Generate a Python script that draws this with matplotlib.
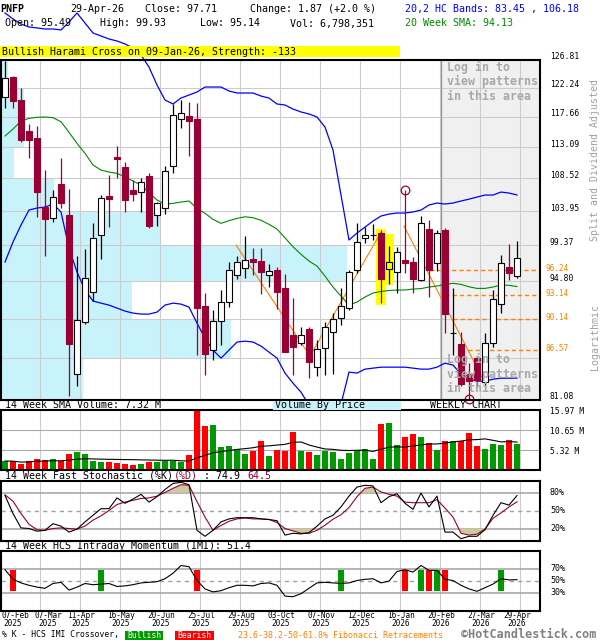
import numpy as np
import pandas as pd
import matplotlib
matplotlib.use("Agg")
import matplotlib.pyplot as plt
from matplotlib.patches import Rectangle
from matplotlib import transforms as mtrans
from matplotlib.ticker import NullLocator

plt.rcParams['font.family'] = ['DejaVu Sans Mono']

# ---------------- data (weekly, week 0 = 07-Feb-2025 ... week 64 = 29-Apr-2026) -------------
ticker = "PNFP"
last_date = "29-Apr-26"
last_volume = "6,798,351"
vol_sma14_last = 7.32
pattern_text = "Bullish Harami Cross on 09-Jan-26, Strength: -133"

opens = [120.82, 123.95, 120.31, 115.50, 114.39, 104.55, 102.96, 107.68, 103.42, 83.85,
         89.80, 93.42, 100.68, 105.98, 111.61, 110.11, 106.87, 106.59, 108.85, 103.37,
         104.33, 110.26, 117.33, 117.80, 117.33, 91.74, 86.55, 89.95, 92.19, 95.52,
         96.48, 97.59, 97.34, 95.52, 96.19, 93.90, 88.31, 87.35, 89.00, 84.70,
         86.77, 88.62, 90.26, 91.46, 96.19, 100.28, 100.70, 101.03, 96.28, 95.97,
         97.47, 97.21, 94.94, 101.48, 97.05, 101.39, 88.50, 87.27, 83.89, 85.63,
         83.04, 87.42, 91.98, 96.53, 95.49]
highs = [126.64, 124.16, 122.17, 116.56, 116.25, 109.72, 106.87, 111.42, 106.96, 97.98,
         98.85, 102.29, 106.17, 109.00, 113.24, 110.84, 108.29, 108.61, 109.33, 105.24,
         110.30, 119.63, 120.31, 119.95, 119.79, 93.29, 91.26, 93.70, 97.17, 97.94,
         100.59, 99.06, 99.06, 96.92, 96.61, 95.65, 92.68, 89.28, 89.28, 87.73,
         89.80, 90.94, 94.00, 96.19, 102.38, 101.83, 102.20, 101.39, 99.32, 99.19,
         106.87, 97.89, 103.32, 102.74, 101.39, 101.61, 93.90, 88.70, 85.15, 85.82,
         88.57, 93.70, 98.11, 99.54, 99.93]
lows = [118.99, 118.99, 113.88, 111.51, 103.18, 97.98, 102.43, 104.41, 81.52, 82.61,
        89.56, 92.35, 97.59, 101.79, 108.61, 103.87, 105.38, 103.87, 101.70, 101.97,
        103.59, 109.24, 115.99, 111.81, 86.01, 83.78, 85.45, 87.15, 91.58, 95.01,
        95.14, 95.56, 93.17, 94.10, 91.38, 86.32, 83.78, 87.15, 83.48, 83.70,
        83.78, 83.85, 89.48, 91.26, 95.77, 99.64, 100.07, 92.14, 94.44, 93.37,
        95.77, 93.37, 94.80, 92.80, 96.06, 88.50, 86.01, 82.60, 81.24, 82.50,
        82.50, 86.96, 90.86, 94.94, 95.14]
closes = [123.78, 120.20, 114.14, 114.14, 106.63, 102.83, 105.93, 105.02, 87.23, 90.03,
          95.14, 100.28, 105.70, 105.56, 111.36, 105.51, 106.27, 108.05, 101.93, 105.02,
          109.53, 117.91, 118.22, 117.07, 91.53, 86.09, 89.95, 92.19, 96.15, 97.25,
          97.43, 97.25, 95.97, 96.06, 93.42, 86.39, 86.96, 88.31, 85.19, 86.69,
          89.21, 90.14, 91.70, 95.97, 99.85, 100.72, 100.75, 95.09, 97.17, 98.46,
          97.05, 95.09, 102.29, 96.19, 100.95, 90.74, 88.60, 82.79, 83.15, 83.23,
          87.42, 92.55, 97.05, 95.84, 97.71]
volumes_m = [2.39, 2.31, 1.60, 2.39, 2.93, 2.66, 2.93, 2.31, 4.35, 4.79,
             4.35, 2.39, 2.22, 2.22, 1.95, 1.69, 1.33, 1.69, 2.22, 2.22,
             2.48, 2.48, 2.22, 4.08, 15.97, 11.80, 12.07, 6.12, 6.48, 5.50,
             4.26, 5.06, 7.72, 3.81, 5.32, 5.06, 10.11, 5.06, 4.79, 3.99,
             5.06, 4.79, 2.93, 4.52, 5.23, 5.59, 2.93, 12.24, 12.51, 6.65,
             8.78, 9.58, 8.78, 7.19, 5.32, 7.72, 7.72, 7.63, 9.85, 6.39,
             5.59, 6.92, 6.65, 7.98, 6.80]
sma20 = [114.74, 115.80, 117.03, 117.44, 117.60, 117.65, 117.54, 116.92, 115.30, 113.64,
         112.16, 110.45, 109.72, 109.43, 109.24, 108.75, 108.15, 107.58, 106.49, 105.48,
         104.93, 105.02, 105.20, 105.34, 104.33, 103.65, 102.83, 102.29, 102.65, 102.96,
         103.18, 103.05, 102.70, 102.16, 101.52, 100.36, 99.19, 98.20, 97.34, 96.70,
         95.43, 94.07, 92.96, 91.86, 92.23, 92.84, 93.33, 93.52, 93.64, 93.70,
         93.70, 93.82, 93.88, 94.07, 94.19, 94.40, 94.53, 94.40, 94.10, 93.90,
         93.90, 94.07, 94.32, 94.28, 94.13]
hc_upper = [134.90, 133.84, 132.96, 132.44, 132.27, 132.09, 132.09, 131.92, 133.31, 134.90,
            133.13, 131.40, 130.88, 130.36, 130.02, 129.51, 128.82, 127.64, 125.64, 122.71,
            120.31, 119.68, 120.62, 121.10, 121.58, 122.38, 122.38, 122.38, 121.74, 121.42,
            121.42, 121.42, 120.94, 120.62, 119.68, 119.52, 118.89, 118.43, 118.12, 117.65,
            116.10, 112.65, 106.17, 100.07, 100.99, 101.79, 102.60, 103.28, 103.55, 103.69,
            103.69, 103.83, 104.10, 104.79, 105.06, 104.92, 105.06, 105.34, 105.60, 105.89,
            106.17, 106.17, 106.59, 106.45, 106.18]
hc_lower = [97.21, 99.81, 102.06, 104.10, 104.37, 104.51, 104.93, 103.83, 99.02, 95.94,
            93.70, 92.35, 92.10, 91.86, 91.50, 91.14, 90.90, 90.78, 90.78, 91.02,
            91.86, 92.10, 91.98, 91.62, 89.71, 87.95, 86.58, 85.67, 86.58, 87.50,
            87.61, 87.50, 87.04, 86.35, 85.67, 84.00, 82.90, 81.92, 80.54, 79.80,
            79.48, 79.80, 80.64, 84.11, 84.00, 84.44, 84.55, 84.66, 84.66, 84.66,
            84.66, 84.55, 84.44, 84.44, 84.66, 85.11, 84.89, 83.89, 83.33, 83.12,
            83.12, 83.33, 83.44, 83.44, 83.45]
stoch_k = [75, 45, 21, 20, 15.5, 17, 28, 24, 14, 19, 31, 42, 53, 53, 71, 62, 69, 77, 64, 73,
           85, 95, 97, 93, 17, 7, 17, 31, 36, 38, 38, 38, 36, 35, 33, 9, 12, 11, 13, 24,
           36, 42, 56, 74, 89, 92, 91, 63, 73, 78, 62, 52, 79, 56, 74, 14, 14, 3, 7, 7,
           18, 42, 63, 59, 74.9]
stoch_d = [76, 65.5, 45, 27, 18, 17, 20, 21, 20, 19, 24, 34, 41, 50, 60, 64, 67, 70, 71, 74,
           80, 87, 93, 92, 65, 39, 17, 25, 32, 36, 37.6, 36, 36, 35, 30, 20, 16, 12, 12, 17,
           25.5, 35.5, 43, 55, 73, 87, 89, 81, 77, 74, 64, 63, 63, 63, 68, 54, 39, 12, 9, 10.5,
           19, 37, 46, 56, 64.5]
imi = [68, 52, 46, 42, 39, 37, 45, 47, 34, 39, 45, 43, 44, 45, 40, 41, 43, 46, 47, 48,
       53, 62, 75, 73, 50, 36, 31, 33, 38, 42, 42, 41, 45, 46, 42, 24, 23, 28, 37, 46,
       47, 46, 45, 46, 50, 52, 53, 46, 49, 65, 68, 64, 75, 67, 67, 52, 50, 42, 36, 32,
       38, 44, 53, 51, 51.4]
imi_bull_weeks = [12, 42, 52, 54, 62]
imi_bear_weeks = [1, 24, 50, 53, 55]

price_ticks = [81.08, 85.66, 90.23, 94.80, 99.37, 103.95, 108.52, 113.09, 117.66, 122.24, 126.81]
price_tick_labels = ["81.08", "", "", "94.80", "99.37", "103.95", "108.52", "113.09",
                     "117.66", "122.24", "126.81"]
# volume by price per price band (bottom band first), millions
vbp_volume_m = [28.7, 80.5, 45.9, 121.1, 56.0, 18.6, 4.6, 8.1, 8.1, 2.5]

fib_levels = [96.24, 93.14, 90.14, 86.57]
fib_start_weeks = [53.125, 55.0, 56.0, 57.875]
fib_swing1_weeks = [28.875, 38.125, 47.0]
fib_swing1_prices = [99.41, 85.90, 101.12]
fib_swing2_weeks = [49.875, 60.0]
fib_swing2_prices = [101.93, 82.90]

pattern_weeks = [47, 48]
pattern_hi = [101.52, 100.86]
pattern_lo = [91.86, 94.28]
harami_week = 48
circle_high_week = 50
circle_low_week = 58

date_tick_weeks = [0, 4, 9, 14, 19, 24, 29, 34, 39, 44, 49, 54, 59, 64]
date_tick_day = ["07-Feb", "07-Mar", "11-Apr", "16-May", "20-Jun", "25-Jul", "29-Aug",
                 "03-Oct", "07-Nov", "12-Dec", "16-Jan", "20-Feb", "27-Mar", "29-Apr"]
date_tick_year = ["2025"] * 10 + ["2026"] * 4

vol_ticks = [5.32, 10.65, 15.97]

# ---------------- figure ----------------
W, H = 600, 640
fig = plt.figure(figsize=(6, 6.4), dpi=100)
fig.patch.set_facecolor('white')

def box(x0, y0, x1, y1):
    return [x0 / W, 1 - y1 / H, (x1 - x0) / W, (y1 - y0) / H]

def ftext(x, y, s, **kw):
    kw.setdefault('va', 'center')
    kw.setdefault('ha', 'left')
    kw.setdefault('fontsize', 7.2)
    return fig.text(x / W, 1 - y / H, s, **kw)

def frect(x0, y0, x1, y1, color):
    fig.add_artist(Rectangle((x0 / W, 1 - y1 / H), (x1 - x0) / W, (y1 - y0) / H,
                             transform=fig.transFigure, facecolor=color,
                             edgecolor='none', zorder=1))

crimson = '#990033'
orange = '#ff8000'
cyan = '#c9f3fb'
khaki = '#cdc99d'
green_v = '#009900'
red_v = '#ff0000'
XMIN, XMAX = -0.5625, 66.875

x = np.arange(len(closes))
O = np.array(opens); Hh = np.array(highs); L = np.array(lows); C = np.array(closes)
up = C >= O
grid_x = [w + 0.375 for w in date_tick_weeks[1:]]

def style(ax):
    ax.set_xlim(XMIN, XMAX)
    ax.set_xticks([]); ax.set_yticks([])
    ax.yaxis.set_minor_locator(NullLocator())
    for s in ax.spines.values():
        s.set_linewidth(1.5); s.set_color('black'); s.set_zorder(10)
    for gx in grid_x:
        ax.axvline(gx, color='#cccccc', lw=0.8, zorder=1)

# ---------------- main price panel ----------------
ax = fig.add_axes(box(0.5, 60, 540, 400))
ax.set_yscale('log')
ax.set_ylim(price_ticks[0], price_ticks[-1])
style(ax)
ax.yaxis.set_minor_locator(NullLocator())
ax.set_yticks([])

# volume by price
vmax = max(vbp_volume_m)
for k, v in enumerate(vbp_volume_m):
    lo, hi = price_ticks[k], price_ticks[k + 1]
    ax.barh(lo, v / vmax * 43.25, height=hi - lo, left=XMIN, align='edge',
            color=cyan, linewidth=0, zorder=0.5)
# login shaded area
ax.axvspan(54.5, XMAX, color='#f0f0f0', zorder=0.6, lw=0)
ax.axvline(54.5, color='#999999', lw=1.0, zorder=1.2)
for p in price_ticks:
    ax.axhline(p, color='#cccccc', lw=0.8, zorder=1)

# pattern highlights
for w, hi, lo in zip(pattern_weeks, pattern_hi, pattern_lo):
    ax.bar(w, hi - lo, bottom=lo, width=1.2, color='#ffff00', lw=0, zorder=1.5)

# fibonacci
ax.plot(fib_swing1_weeks, fib_swing1_prices, color=orange, lw=0.8, zorder=2)
ax.plot(fib_swing2_weeks, fib_swing2_prices, color=orange, lw=0.8, zorder=2)
for lv, sw in zip(fib_levels, fib_start_weeks):
    ax.hlines(lv, sw, XMAX, colors=orange, linestyles=(0, (3, 2.2)), lw=1.0, zorder=2)

# bands and sma
ax.plot(x, hc_upper, color='#0000ff', lw=0.9, zorder=2.5, clip_on=False)
ax.plot(x, hc_lower, color='#0000ff', lw=0.9, zorder=2.5)
ax.plot(x, sma20, color='#008800', lw=0.8, zorder=2.5)

# candles
for i in x:
    col = 'black' if up[i] else crimson
    ax.vlines(i, L[i], Hh[i], color=col, lw=0.9, zorder=3)
    lo, hi = min(O[i], C[i]), max(O[i], C[i])
    face = 'white' if up[i] else crimson
    if i == harami_week:
        face = '#ffff00'
    ax.bar(i, hi - lo, bottom=lo, width=0.68, color=face, edgecolor=col,
           linewidth=0.8, zorder=3.5)

ax.plot(circle_high_week, Hh[circle_high_week], marker='o', ms=6.2, mfc='none',
        mec=crimson, mew=0.9, zorder=6, clip_on=False)
ax.plot(circle_low_week, L[circle_low_week], marker='o', ms=6.2, mfc='none',
        mec=crimson, mew=0.9, zorder=6, clip_on=False)

blend = mtrans.blended_transform_factory(ax.transAxes, ax.transData)
tr_up = mtrans.offset_copy(blend, fig=fig, x=0, y=3, units='dots')
for p, lab in zip(price_ticks, price_tick_labels):
    if lab:
        ax.text((550 - 0.5) / 539.5, p, lab, transform=tr_up, va='center', ha='left',
                fontsize=5.8, color='black', clip_on=False)
tr_fib = mtrans.offset_copy(blend, fig=fig, x=0, y=1.5, units='dots')
for lv in fib_levels:
    ax.text((545 - 0.5) / 539.5, lv, f"{lv:.2f}", transform=tr_fib, va='center',
            ha='left', fontsize=5.6, color=orange, clip_on=False)

# login texts
for yy, s in zip([67, 81.7, 96.7], ["Log in to", "view patterns", "in this area"]):
    ftext(447, yy, s, fontsize=8.4, fontweight='bold', color='#a8a8a8')
for yy, s in zip([359, 374, 389], ["Log in to", "view patterns", "in this area"]):
    ftext(447, yy, s, fontsize=8.4, fontweight='bold', color='#a8a8a8')

ftext(595, 160, "Split and Dividend Adjusted", rotation=90, ha='center',
      color='#a0a0a0', fontsize=7.1)
ftext(595, 337, "Logarithmic", rotation=90, ha='center', color='#a0a0a0', fontsize=7.1)

# ---------------- header ----------------
last = len(closes) - 1
chg = closes[last] - closes[last - 1]
ftext(0, 9, ticker, fontweight='bold')
ftext(70, 9, last_date)
ftext(145, 9, f"Close: {closes[last]:.2f}")
ftext(250, 9, f"Change: {chg:.2f} (+{chg / closes[last - 1] * 100:.1f} %)")
ftext(405, 9, f"20,2 HC Bands: {hc_lower[last]:.2f} , {hc_upper[last]:.2f}", color='#0000ff')
ftext(5, 23.5, f"Open: {opens[last]:.2f}")
ftext(100, 23.5, f"High: {highs[last]:.2f}")
ftext(200, 23.5, f"Low: {lows[last]:.2f}")
ftext(290, 23.5, f"Vol: {last_volume}")
ftext(405, 23.5, f"20 Week SMA: {sma20[last]:.2f}", color='#008800')
frect(0, 45.7, 400, 57.3, '#ffff00')
ftext(2, 52, pattern_text)

# ---------------- volume panel ----------------
axv = fig.add_axes(box(0.5, 410, 540, 470))
axv.set_ylim(0, vol_ticks[-1])
style(axv)
for t in vol_ticks[:2]:
    axv.axhline(t, color='#aaaaaa', lw=0.8, zorder=1)
vcol = [green_v if u else red_v for u in up]
axv.bar(x, volumes_m, width=0.72, color=vcol, lw=0, zorder=2)
vsma = pd.Series(volumes_m).rolling(14, min_periods=1).mean()
axv.plot(x, vsma, color='black', lw=0.8, zorder=3)
trv = mtrans.blended_transform_factory(axv.transAxes, axv.transData)
trv = mtrans.offset_copy(trv, fig=fig, x=0, y=-1.5, units='dots')
for t in vol_ticks:
    axv.text((550 - 0.5) / 539.5, t, f"{t:.2f} M", transform=trv, va='center',
             ha='left', fontsize=5.8, clip_on=False)
ftext(5, 405.5, f"14 Week SMA Volume: {vol_sma14_last:.2f} M")
frect(273, 401, 401, 410, cyan)
ftext(275, 405.5, "Volume By Price")
ftext(430, 405.5, "WEEKLY CHART")

# ---------------- stochastic ----------------
axs = fig.add_axes(box(0.5, 480.5, 540, 540.5))
axs.set_ylim(0, 100)
style(axs)
axs.axhline(80, color='#a0a0a0', lw=1.1, zorder=1)
axs.axhline(20, color='#a0a0a0', lw=1.1, zorder=1)
axs.axhline(50, color='#a0a0a0', lw=1.0, ls=(0, (3, 3)), zorder=1)
K = np.array(stoch_k, float); D = np.array(stoch_d, float)
lo_kd = np.minimum(K, D); hi_kd = np.maximum(K, D)
axs.fill_between(x, 80, lo_kd, where=lo_kd > 80, interpolate=True, color=khaki, lw=0, zorder=1.5)
axs.fill_between(x, 20, hi_kd, where=hi_kd < 20, interpolate=True, color=khaki, lw=0, zorder=1.5)
axs.plot(x, D, color=crimson, lw=0.8, zorder=3)
axs.plot(x, K, color='black', lw=0.8, zorder=3.2)
trs = mtrans.blended_transform_factory(axs.transAxes, axs.transData)
for t in [80, 50, 20]:
    axs.text((550 - 0.5) / 539.5, t, f"{t}%", transform=trs, va='center', ha='left',
             fontsize=6, clip_on=False)
ftext(5, 476, "14 Week Fast Stochastic (%K)")
ftext(174, 476, "(%D)", color=crimson)
ftext(198, 476, f" : {stoch_k[-1]:.1f}")
ftext(247, 476, f"{stoch_d[-1]:.1f}", color=crimson)

# ---------------- IMI ----------------
axi = fig.add_axes(box(0.5, 550.5, 540, 610.5))
axi.set_ylim(0, 100)
style(axi)
axi.axhline(70, color='#a0a0a0', lw=1.1, zorder=1)
axi.axhline(30, color='#a0a0a0', lw=1.1, zorder=1)
axi.axhline(50, color='#a0a0a0', lw=1.0, ls=(0, (3, 3)), zorder=1)
axi.bar(imi_bull_weeks, 35, bottom=32, width=0.75, color=green_v, lw=0, zorder=2)
axi.bar(imi_bear_weeks, 35, bottom=32, width=0.75, color=red_v, lw=0, zorder=2)
axi.plot(x, imi, color='black', lw=0.8, zorder=3)
tri = mtrans.blended_transform_factory(axi.transAxes, axi.transData)
for t in [70, 50, 30]:
    axi.text((550 - 0.5) / 539.5, t, f"{t}%", transform=tri, va='center', ha='left',
             fontsize=6, clip_on=False)
ftext(5, 546, f"14 Week HCS Intraday Momentum (IMI): {imi[-1]:.1f}")

# ---------------- date labels ----------------
for k, (w, d, yv) in enumerate(zip(date_tick_weeks, date_tick_day, date_tick_year)):
    px = 8 + 8 * w + 1
    if k == 0:
        ftext(2, 615.7, d, fontsize=5.6)
        ftext(3, 624, yv, fontsize=5.6)
        continue
    if k == 1:
        px = 48
    if k == len(date_tick_weeks) - 1:
        px = 517
    ftext(px, 615.7, d, ha='center', fontsize=5.6)
    ftext(px, 624, yv, ha='center', fontsize=5.6)

# ---------------- bottom legend ----------------
ftext(2, 635, "% K - HCS IMI Crossover,", fontsize=5.9)
frect(125, 630.7, 163, 640, green_v)
ftext(144, 635, "Bullish", ha='center', fontsize=5.9, color='white')
frect(175, 630.7, 214, 640, red_v)
ftext(194.5, 635, "Bearish", ha='center', fontsize=5.9, color='white')
ftext(238, 635, "23.6-38.2-50-61.8% Fibonacci Retracements", fontsize=6, color=orange)
ftext(461, 634, "\u00a9HotCandlestick.com", fontsize=8.5, fontweight='bold', color='#808080')

fig.savefig("out.png", dpi=100)
